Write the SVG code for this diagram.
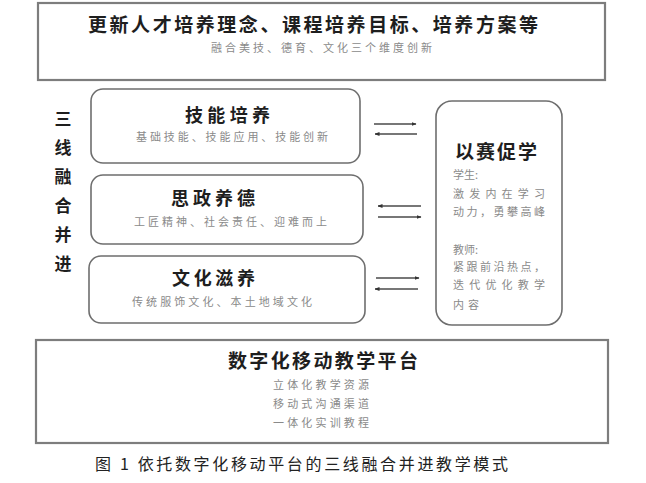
<svg xmlns="http://www.w3.org/2000/svg" width="646" height="483" viewBox="0 0 646 483">
<style>
.frame{fill:#fff;stroke:#7d7d7d;stroke-width:2.2}
.rbox{fill:#fff;stroke:#6e6e6e;stroke-width:1.6}
.h{font-family:"Noto Sans CJK SC",sans-serif;font-weight:700;fill:#1e1e1e}
.s{font-family:"Noto Sans CJK SC",sans-serif;font-size:11px;fill:#8a8a8a}
.cap{font-family:"Noto Sans CJK SC",sans-serif;font-size:16px;fill:#222}
.arr{stroke:#4a4a4a;stroke-width:1.3;fill:none;marker-end:url(#ah)}
</style>
<defs>
<marker id="ah" viewBox="0 0 10 10" refX="9" refY="5" markerWidth="5" markerHeight="5" orient="auto" markerUnits="userSpaceOnUse">
<path d="M0,1 L10,5 L0,9 z" fill="#333"/>
</marker>
</defs>
<rect width="646" height="483" fill="#fff"/>

<g id="top">
<rect class="frame" x="38" y="3" width="567" height="77"/>
<text class="h" x="88" y="32" font-size="19" textLength="450" lengthAdjust="spacing">更新人才培养理念、课程培养目标、培养方案等</text>
<text class="s" x="211" y="52" textLength="221" lengthAdjust="spacing">融合美技、德育、文化三个维度创新</text>
</g>

<g id="side">
<text class="h" font-size="17" text-anchor="middle" x="63" y="124.5">三</text>
<text class="h" font-size="17" text-anchor="middle" x="63" y="153.5">线</text>
<text class="h" font-size="17" text-anchor="middle" x="63" y="182.5">融</text>
<text class="h" font-size="17" text-anchor="middle" x="63" y="211.5">合</text>
<text class="h" font-size="17" text-anchor="middle" x="63" y="240.5">并</text>
<text class="h" font-size="17" text-anchor="middle" x="63" y="269.5">进</text>
</g>

<g id="skill">
<rect class="rbox" x="91" y="89" width="269" height="74" rx="12"/>
<text class="h" x="185" y="122" font-size="18" textLength="85" lengthAdjust="spacing">技能培养</text>
<text class="s" x="136" y="141" textLength="192" lengthAdjust="spacing">基础技能、技能应用、技能创新</text>
</g>

<g id="ideology">
<rect class="rbox" x="91" y="175" width="272" height="69" rx="12"/>
<text class="h" x="171" y="205" font-size="18" textLength="84" lengthAdjust="spacing">思政养德</text>
<text class="s" x="134" y="226" textLength="193" lengthAdjust="spacing">工匠精神、社会责任、迎难而上</text>
</g>

<g id="culture">
<rect class="rbox" x="89" y="256" width="276" height="67" rx="12"/>
<text class="h" x="172" y="285" font-size="18" textLength="83" lengthAdjust="spacing">文化滋养</text>
<text class="s" x="132" y="306" textLength="180" lengthAdjust="spacing">传统服饰文化、本土地域文化</text>
</g>

<g id="competition">
<rect class="rbox" x="436" y="101" width="126" height="224" rx="16"/>
<text class="h" x="455" y="159" font-size="19" textLength="82" lengthAdjust="spacing">以赛促学</text>
<text class="s" x="453" y="179">学生:</text>
<text class="s" x="453" y="198" textLength="92" lengthAdjust="spacing">激发内在学习</text>
<text class="s" x="453" y="216" textLength="92" lengthAdjust="spacing">动力，勇攀高峰</text>
<text class="s" x="453" y="254">教师:</text>
<text class="s" x="453" y="271" textLength="92" lengthAdjust="spacing">紧跟前沿热点，</text>
<text class="s" x="453" y="289" textLength="92" lengthAdjust="spacing">迭代优化教学</text>
<text class="s" x="453" y="309" textLength="26" lengthAdjust="spacing">内容</text>
</g>

<g id="platform">
<rect class="frame" x="36" y="340" width="572" height="103"/>
<text class="h" x="228" y="368" font-size="19" textLength="190" lengthAdjust="spacing">数字化移动教学平台</text>
<text class="s" x="273" y="389" textLength="96" lengthAdjust="spacing">立体化教学资源</text>
<text class="s" x="273" y="408" textLength="96" lengthAdjust="spacing">移动式沟通渠道</text>
<text class="s" x="273" y="427" textLength="96" lengthAdjust="spacing">一体化实训教程</text>
</g>

<g id="connectors">
<line class="arr" x1="374" y1="124" x2="416" y2="124"/>
<line class="arr" x1="417" y1="134" x2="375" y2="134"/>
<line class="arr" x1="421" y1="206" x2="378" y2="206"/>
<line class="arr" x1="378" y1="217" x2="421" y2="217"/>
<line class="arr" x1="376" y1="278" x2="419" y2="278"/>
<line class="arr" x1="418" y1="289" x2="375" y2="289"/>
</g>

<text class="cap" x="95" y="470" textLength="413" lengthAdjust="spacing">图 1 依托数字化移动平台的三线融合并进教学模式</text>
</svg>
